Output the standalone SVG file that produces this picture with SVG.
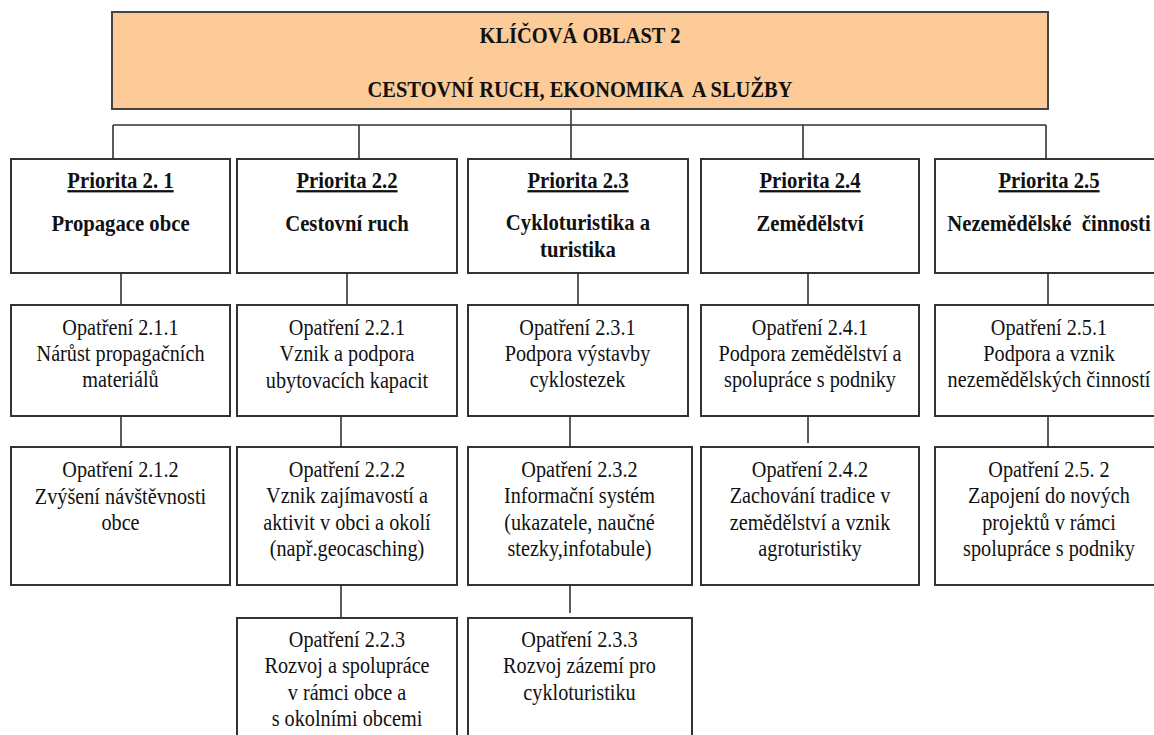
<svg xmlns="http://www.w3.org/2000/svg" width="1154" height="735" viewBox="0 0 1154 735">
<style>
.box{fill:#fff;stroke:#333;stroke-width:2}
.hdr{fill:#fccb98;stroke:#444;stroke-width:2}
.con{stroke:#333;stroke-width:1.6;fill:none}
.t text{font-size:23px;fill:#111;text-anchor:middle}
.b{font-weight:bold}
.u{text-decoration:underline}
</style>
<rect width="1154" height="735" fill="#fff"/>
<g id="connectors">
<path class="con" d="M571 109V159M113 125H1046M113 125V159M359 125V159M803 125V159M1046 125V159"/>
<path class="con" d="M121 273V305M347 273V305M578 273V305M808 273V305M1048 273V305"/>
<path class="con" d="M121 416V447M341 416V447M570 416V447M808 416V443M1048 416V447"/>
<path class="con" d="M341 585V618M570 585V613"/>
</g>
<g class="t" font-family="Liberation Serif, Tinos, Times New Roman, DejaVu Serif, serif">
<g id="header">
<rect class="hdr" x="112" y="12" width="936" height="97"/>
<g transform="translate(580 0) scale(0.89 1)">
<text class="b" y="43">KLÍČOVÁ OBLAST 2</text>
<text class="b" y="97" xml:space="preserve">CESTOVNÍ RUCH, EKONOMIKA  A SLUŽBY</text>
</g>
</g>
<g id="p21">
<rect class="box" x="11" y="159" width="219" height="114"/>
<g transform="translate(120.5 0) scale(0.9 1)">
<text class="b u" y="188">Priorita 2. 1</text>
<text class="b" y="231">Propagace obce</text>
</g>
</g>
<g id="p22">
<rect class="box" x="237" y="159" width="220" height="114"/>
<g transform="translate(347 0) scale(0.9 1)">
<text class="b u" y="188">Priorita 2.2</text>
<text class="b" y="231">Cestovní ruch</text>
</g>
</g>
<g id="p23">
<rect class="box" x="468" y="159" width="220" height="114"/>
<g transform="translate(578 0) scale(0.9 1)">
<text class="b u" y="188">Priorita 2.3</text>
<text class="b" y="230">Cykloturistika a</text>
<text class="b" y="257">turistika</text>
</g>
</g>
<g id="p24">
<rect class="box" x="701" y="159" width="218" height="114"/>
<g transform="translate(810 0) scale(0.9 1)">
<text class="b u" y="188">Priorita 2.4</text>
<text class="b" y="231">Zemědělství</text>
</g>
</g>
<g id="p25">
<rect class="box" x="935" y="159" width="228" height="114"/>
<g transform="translate(1049 0) scale(0.9 1)">
<text class="b u" y="188">Priorita 2.5</text>
<text class="b" y="231" xml:space="preserve">Nezemědělské  činnosti</text>
</g>
</g>
<g id="o211">
<rect class="box" x="11" y="305" width="219" height="111"/>
<g transform="translate(120.5 0) scale(0.88 1)">
<text y="335">Opatření 2.1.1</text>
<text y="361">Nárůst propagačních</text>
<text y="387">materiálů</text>
</g>
</g>
<g id="o221">
<rect class="box" x="237" y="305" width="220" height="111"/>
<g transform="translate(347 0) scale(0.88 1)">
<text y="335">Opatření 2.2.1</text>
<text y="361">Vznik a podpora</text>
<text y="388">ubytovacích kapacit</text>
</g>
</g>
<g id="o231">
<rect class="box" x="468" y="305" width="220" height="111"/>
<g transform="translate(577.5 0) scale(0.88 1)">
<text y="335">Opatření 2.3.1</text>
<text y="361">Podpora výstavby</text>
<text y="387">cyklostezek</text>
</g>
</g>
<g id="o241">
<rect class="box" x="701" y="305" width="218" height="111"/>
<g transform="translate(810 0) scale(0.88 1)">
<text y="335">Opatření 2.4.1</text>
<text y="361">Podpora zemědělství a</text>
<text y="387">spolupráce s podniky</text>
</g>
</g>
<g id="o251">
<rect class="box" x="935" y="305" width="228" height="111"/>
<g transform="translate(1049 0) scale(0.88 1)">
<text y="335">Opatření 2.5.1</text>
<text y="361">Podpora a vznik</text>
<text y="387">nezemědělských činností</text>
</g>
</g>
<g id="o212">
<rect class="box" x="11" y="447" width="219" height="138"/>
<g transform="translate(120.5 0) scale(0.88 1)">
<text y="477">Opatření 2.1.2</text>
<text y="504">Zvýšení návštěvnosti</text>
<text y="530">obce</text>
</g>
</g>
<g id="o222">
<rect class="box" x="237" y="447" width="220" height="138"/>
<g transform="translate(347 0) scale(0.88 1)">
<text y="477">Opatření 2.2.2</text>
<text y="503.5">Vznik zajímavostí a</text>
<text y="530">aktivit v obci a okolí</text>
<text y="556.5">(např.geocasching)</text>
</g>
</g>
<g id="o232">
<rect class="box" x="468" y="447" width="224" height="138"/>
<g transform="translate(579.5 0) scale(0.88 1)">
<text y="477">Opatření 2.3.2</text>
<text y="503.5">Informační systém</text>
<text y="530">(ukazatele, naučné</text>
<text y="556.5">stezky,infotabule)</text>
</g>
</g>
<g id="o242">
<rect class="box" x="701" y="447" width="218" height="138"/>
<g transform="translate(810 0) scale(0.88 1)">
<text y="477">Opatření 2.4.2</text>
<text y="503.5">Zachování tradice v</text>
<text y="530">zemědělství a vznik</text>
<text y="556.5">agroturistiky</text>
</g>
</g>
<g id="o252">
<rect class="box" x="935" y="447" width="228" height="138"/>
<g transform="translate(1049 0) scale(0.88 1)">
<text y="477">Opatření 2.5. 2</text>
<text y="503.5">Zapojení do nových</text>
<text y="530">projektů v rámci</text>
<text y="556.5">spolupráce s podniky</text>
</g>
</g>
<g id="o223">
<rect class="box" x="237" y="618" width="220" height="140"/>
<g transform="translate(347 0) scale(0.88 1)">
<text y="647">Opatření 2.2.3</text>
<text y="673.5">Rozvoj a spolupráce</text>
<text y="700">v rámci obce a</text>
<text y="726.5">s okolními obcemi</text>
</g>
</g>
<g id="o233">
<rect class="box" x="468" y="618" width="224" height="140"/>
<g transform="translate(579.5 0) scale(0.88 1)">
<text y="647">Opatření 2.3.3</text>
<text y="673.5">Rozvoj zázemí pro</text>
<text y="700">cykloturistiku</text>
</g>
</g>
</g>
</svg>
